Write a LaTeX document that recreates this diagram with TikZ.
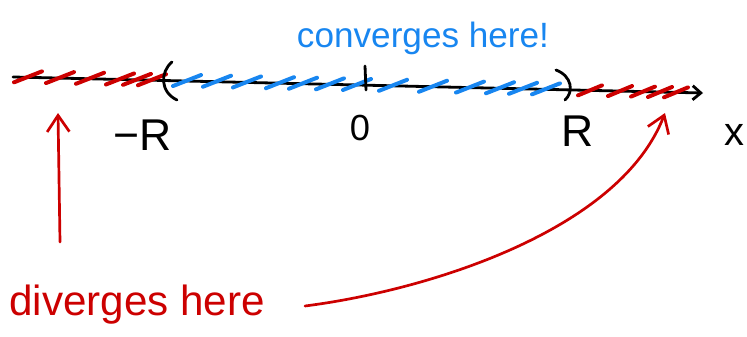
\documentclass[tikz,border=0pt]{standalone}
\usepackage{fontspec}
\setmainfont{Liberation Sans}
\usepackage{xcolor}
\usetikzlibrary{arrows.meta,calc}
\definecolor{inkred}{RGB}{204,0,0}
\definecolor{inkblue}{RGB}{24,134,240}

\begin{document}
\begin{tikzpicture}[
  x=0.03cm, y=-0.03cm,
  axisline/.style={line width=2.4pt, line cap=round, draw=black},
  hatchRed/.style={line width=3.4pt, line cap=round, draw=inkred},
  hatchBlue/.style={line width=3.4pt, line cap=round, draw=inkblue},
  lbl/.style={font=\fontsize{38}{42}\selectfont, text=black, inner sep=0pt},
  note/.style={font=\fontsize{30}{34}\selectfont, inner sep=0pt},
  pointer/.style={-{Straight Barb[length=14pt,width=19pt]}, line width=2.3pt,
    line cap=round, draw=inkred}
]
  \useasboundingbox (0,0) rectangle (747,337);

  \coordinate (xstart) at (13,77);
  \coordinate (xend) at (703,93);
  \draw[axisline, -{Straight Barb[length=7pt,width=12pt]}] (xstart) -- (xend);

  \foreach \h in {28,60,90,120,137,152}
    \draw[hatchRed] ($(xstart)!{(\h-13)/690}!(xend)+(-14,5)$) -- ++(28,-11);
  \foreach \h in {187,217,247,280,303,330,357,393,433,470,500,523,546}
    \draw[hatchBlue] ($(xstart)!{(\h-13)/690}!(xend)+(-14,5)$) -- ++(28,-11);
  \foreach \h in {590,620,643,660,676}
    \draw[hatchRed] ($(xstart)!{(\h-13)/690}!(xend)+(-12,5)$) -- ++(24,-10);

  \draw[axisline] (365,66) -- (366,90);
  \draw[axisline] (172,62) .. controls (160,72) and (160,92) .. (177,100);
  \draw[axisline] (556,70) .. controls (572,76) and (574,92) .. (565,100);

  \node[lbl] (minusR) at (143,135) {−R};
  \node[lbl, font=\fontsize{31}{33}\selectfont] (zero) at (360,128) {0};
  \node[lbl] (plusR) at (578,131) {R};
  \node[lbl, font=\fontsize{34}{36}\selectfont] (xlab) at (734,135) {x};

  \node[note, text=inkblue, anchor=base] (conv) at (423,47) {converges here!};
  \node[note, text=inkred, anchor=base, font=\fontsize{36}{40}\selectfont]
    (div) at (137,315) {diverges here};

  \coordinate (leftfoot) at (60,242);
  \coordinate (lefttip) at (58,113);
  \coordinate (curvefoot) at (305,306);
  \coordinate (righttip) at (665,113);
  \draw[pointer] (leftfoot) -- (lefttip);
  \draw[pointer] (curvefoot) .. controls (430,290) and (620,230) .. (righttip);
\end{tikzpicture}
\end{document}
